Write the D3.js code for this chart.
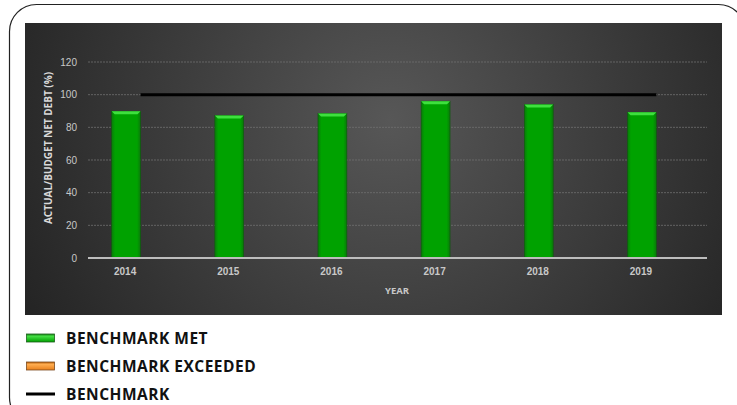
<!DOCTYPE html>
<head>
  <meta charset="utf-8">
  <style>
    body { margin: 0; background: #fff; }
    svg { display: block; font-family: "Open Sans", sans-serif; }
    .axis text { fill: #c8c8c8; font-size: 10px; }
    .x.axis text { font-weight: bold; font-size: 10px; }
    .legend text { font-size: 15.5px; font-weight: bold; fill: #111; letter-spacing: 0.5px; }
  </style>
  <script src="https://d3js.org/d3.v7.min.js"></script>
</head>
<body>
<script>
  // chart data
  const years = ['2014', '2015', '2016', '2017', '2018', '2019'];
  const ratio = [89.8, 87.3, 88.5, 96, 94, 89.2];
  const benchmark = 100;
  const yTicks = [0, 20, 40, 60, 80, 100, 120];
  const legendItems = ['BENCHMARK MET', 'BENCHMARK EXCEEDED', 'BENCHMARK'];

  const w = 737, h = 405;
  const svg = d3.select('body').append('svg')
      .attr('width', w)
      .attr('height', h);

  const defs = svg.append('defs');

  const bg = defs.append('radialGradient')
      .attr('id', 'bg')
      .attr('gradientUnits', 'userSpaceOnUse')
      .attr('cx', 390).attr('cy', 120).attr('r', 420);
  bg.append('stop').attr('offset', '0%').attr('stop-color', '#575757');
  bg.append('stop').attr('offset', '100%').attr('stop-color', '#232323');

  const barGrad = defs.append('linearGradient').attr('id', 'barGrad')
      .attr('x1', 0).attr('x2', 1).attr('y1', 0).attr('y2', 0);
  barGrad.append('stop').attr('offset', '0%').attr('stop-color', '#0a7a0a');
  barGrad.append('stop').attr('offset', '12%').attr('stop-color', '#00a200');
  barGrad.append('stop').attr('offset', '88%').attr('stop-color', '#00a200');
  barGrad.append('stop').attr('offset', '100%').attr('stop-color', '#0a7a0a');

  const swGreen = defs.append('linearGradient').attr('id', 'swGreen')
      .attr('x1', 0).attr('x2', 0).attr('y1', 0).attr('y2', 1);
  swGreen.append('stop').attr('offset', '0%').attr('stop-color', '#1a8a1a');
  swGreen.append('stop').attr('offset', '30%').attr('stop-color', '#44dd44');
  swGreen.append('stop').attr('offset', '100%').attr('stop-color', '#00a000');

  const swOrange = defs.append('linearGradient').attr('id', 'swOrange')
      .attr('x1', 0).attr('x2', 0).attr('y1', 0).attr('y2', 1);
  swOrange.append('stop').attr('offset', '0%').attr('stop-color', '#b8600a');
  swOrange.append('stop').attr('offset', '30%').attr('stop-color', '#ffad50');
  swOrange.append('stop').attr('offset', '100%').attr('stop-color', '#e8801c');

  // outer rounded frame
  svg.append('rect')
      .attr('x', 9.5).attr('y', 4.5)
      .attr('width', 736).attr('height', 420)
      .attr('rx', 27)
      .attr('fill', 'none')
      .attr('stroke', '#222')
      .attr('stroke-width', 1.2);

  // chart area
  svg.append('rect')
      .attr('x', 25).attr('y', 23)
      .attr('width', 697).attr('height', 292)
      .attr('fill', 'url(#bg)');

  const xScale = d3.scaleBand()
      .domain(years)
      .range([74.5, 693.5])
      .paddingInner(0.72)
      .paddingOuter(0.36);

  const yScale = d3.scaleLinear()
      .domain([0, 120])
      .range([258, 62]);

  // gridlines
  svg.append('g')
      .selectAll('line')
      .data(yTicks.filter(d => d > 0))
      .enter()
      .append('line')
      .attr('x1', 88).attr('x2', 707)
      .attr('y1', d => yScale(d)).attr('y2', d => yScale(d))
      .attr('stroke', '#6e6e6e')
      .attr('stroke-width', 0.8)
      .attr('stroke-dasharray', '2,1');

  // y axis
  const yAxis = d3.axisLeft(yScale).tickValues(yTicks).tickSize(0).tickPadding(11);
  svg.append('g')
      .attr('class', 'y axis')
      .attr('transform', 'translate(88,0)')
      .call(yAxis)
      .call(g => g.select('.domain').remove());

  // bars
  const bars = svg.append('g').selectAll('g.bar')
      .data(years)
      .enter()
      .append('g');

  bars.append('rect')
      .attr('x', d => xScale(d))
      .attr('y', (d, i) => yScale(ratio[i]))
      .attr('width', xScale.bandwidth())
      .attr('height', (d, i) => yScale(0) - yScale(ratio[i]))
      .attr('fill', 'url(#barGrad)')
      .attr('stroke', '#0c5a0c')
      .attr('stroke-width', 0.6);

  // top bevel
  bars.append('path')
      .attr('d', (d, i) => {
        const x0 = xScale(d), x1 = x0 + xScale.bandwidth(), y0 = yScale(ratio[i]);
        return `M${x0},${y0}L${x1},${y0}L${x1 - 3},${y0 + 3}L${x0 + 3},${y0 + 3}Z`;
      })
      .attr('fill', '#3ee03e');

  // x axis baseline
  svg.append('line')
      .attr('x1', 88).attr('x2', 707)
      .attr('y1', yScale(0)).attr('y2', yScale(0))
      .attr('stroke', '#bdbdbd')
      .attr('stroke-width', 1.8);

  const xAxis = d3.axisBottom(xScale).tickSize(0).tickPadding(10);
  svg.append('g')
      .attr('class', 'x axis')
      .attr('transform', `translate(-1, ${yScale(0)})`)
      .call(xAxis)
      .call(g => g.select('.domain').remove());

  // benchmark line
  svg.append('line')
      .attr('x1', xScale(years[0]) + xScale.bandwidth())
      .attr('x2', xScale(years[years.length - 1]) + xScale.bandwidth())
      .attr('y1', yScale(benchmark)).attr('y2', yScale(benchmark))
      .attr('stroke', '#000')
      .attr('stroke-width', 3);

  // axis titles
  svg.append('text')
      .attr('x', 397).attr('y', 294)
      .attr('text-anchor', 'middle')
      .attr('font-size', '9.5px').attr('font-weight', 'bold')
      .attr('fill', '#c8c8c8')
      .text('YEAR');

  svg.append('text')
      .attr('transform', 'translate(52,148) rotate(-90)')
      .attr('text-anchor', 'middle')
      .attr('font-size', '10px').attr('font-weight', 'bold')
      .attr('fill', '#d8d8d8')
      .text('ACTUAL/BUDGET NET DEBT (%)');

  // legend
  const legend = svg.append('g').attr('class', 'legend');
  const rowY = [338, 366, 394];
  legendItems.forEach((name, i) => {
    if (i < 2) {
      legend.append('rect')
          .attr('x', 26.5).attr('y', rowY[i] - 4)
          .attr('width', 28).attr('height', 8)
          .attr('fill', i === 0 ? 'url(#swGreen)' : 'url(#swOrange)')
          .attr('stroke', i === 0 ? '#1d5e1d' : '#7a4a1e')
          .attr('stroke-width', 0.8);
    } else {
      legend.append('line')
          .attr('x1', 26).attr('x2', 55)
          .attr('y1', rowY[i]).attr('y2', rowY[i])
          .attr('stroke', '#000').attr('stroke-width', 3);
    }
    legend.append('text')
        .attr('x', 66).attr('y', rowY[i])
        .attr('dy', '0.36em')
        .text(name);
  });
</script>
</body>
